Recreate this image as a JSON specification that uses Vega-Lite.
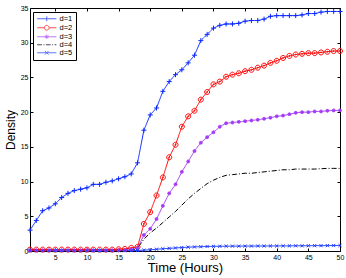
{
"$schema": "https://vega.github.io/schema/vega-lite/v6.json",
"width": 310, "height": 243,
"autosize": {"type": "none"},
"padding": {"left": 30, "top": 8, "right": 6, "bottom": 27},
"config": {"view": {"stroke": "#000", "strokeWidth": 1}, "font": "Liberation Sans",
  "axis": {"grid": false, "domain": false, "tickColor": "#000", "labelColor": "#000", "titleColor": "#000", "titleFontWeight": "normal", "labelFlush": false, "tickSize": -3}},
"data": {"values": [
{"t":1,"d":"d=1","v":3.0},{"t":2,"d":"d=1","v":4.4},{"t":3,"d":"d=1","v":5.8},{"t":4,"d":"d=1","v":6.2},{"t":5,"d":"d=1","v":6.8},{"t":6,"d":"d=1","v":7.7},{"t":7,"d":"d=1","v":8.3},{"t":8,"d":"d=1","v":8.7},{"t":9,"d":"d=1","v":8.9},{"t":10,"d":"d=1","v":9.1},
{"t":11,"d":"d=1","v":9.6},{"t":12,"d":"d=1","v":9.6},{"t":13,"d":"d=1","v":9.9},{"t":14,"d":"d=1","v":10.1},{"t":15,"d":"d=1","v":10.4},{"t":16,"d":"d=1","v":10.7},{"t":17,"d":"d=1","v":11.1},{"t":18,"d":"d=1","v":12.7},{"t":19,"d":"d=1","v":17.4},{"t":20,"d":"d=1","v":19.6},
{"t":21,"d":"d=1","v":20.6},{"t":22,"d":"d=1","v":23.0},{"t":23,"d":"d=1","v":24.4},{"t":24,"d":"d=1","v":25.4},{"t":25,"d":"d=1","v":26.1},{"t":26,"d":"d=1","v":27.1},{"t":27,"d":"d=1","v":28.2},{"t":28,"d":"d=1","v":30.3},{"t":29,"d":"d=1","v":31.2},{"t":30,"d":"d=1","v":32.1},
{"t":31,"d":"d=1","v":32.5},{"t":32,"d":"d=1","v":32.7},{"t":33,"d":"d=1","v":32.7},{"t":34,"d":"d=1","v":32.8},{"t":35,"d":"d=1","v":33.1},{"t":36,"d":"d=1","v":33.2},{"t":37,"d":"d=1","v":33.2},{"t":38,"d":"d=1","v":33.4},{"t":39,"d":"d=1","v":33.8},{"t":40,"d":"d=1","v":33.9},
{"t":41,"d":"d=1","v":33.9},{"t":42,"d":"d=1","v":33.9},{"t":43,"d":"d=1","v":33.9},{"t":44,"d":"d=1","v":34.0},{"t":45,"d":"d=1","v":34.2},{"t":46,"d":"d=1","v":34.2},{"t":47,"d":"d=1","v":34.4},{"t":48,"d":"d=1","v":34.5},{"t":49,"d":"d=1","v":34.5},{"t":50,"d":"d=1","v":34.5},
{"t":1,"d":"d=2","v":0.2},{"t":2,"d":"d=2","v":0.2},{"t":3,"d":"d=2","v":0.2},{"t":4,"d":"d=2","v":0.2},{"t":5,"d":"d=2","v":0.2},{"t":6,"d":"d=2","v":0.2},{"t":7,"d":"d=2","v":0.2},{"t":8,"d":"d=2","v":0.2},{"t":9,"d":"d=2","v":0.2},{"t":10,"d":"d=2","v":0.2},
{"t":11,"d":"d=2","v":0.2},{"t":12,"d":"d=2","v":0.2},{"t":13,"d":"d=2","v":0.2},{"t":14,"d":"d=2","v":0.2},{"t":15,"d":"d=2","v":0.25},{"t":16,"d":"d=2","v":0.3},{"t":17,"d":"d=2","v":0.45},{"t":18,"d":"d=2","v":0.6},{"t":19,"d":"d=2","v":3.9},{"t":20,"d":"d=2","v":5.6},
{"t":21,"d":"d=2","v":8.0},{"t":22,"d":"d=2","v":10.6},{"t":23,"d":"d=2","v":13.5},{"t":24,"d":"d=2","v":15.3},{"t":25,"d":"d=2","v":17.9},{"t":26,"d":"d=2","v":19.4},{"t":27,"d":"d=2","v":20.2},{"t":28,"d":"d=2","v":21.8},{"t":29,"d":"d=2","v":22.9},{"t":30,"d":"d=2","v":24.0},
{"t":31,"d":"d=2","v":24.4},{"t":32,"d":"d=2","v":25.1},{"t":33,"d":"d=2","v":25.4},{"t":34,"d":"d=2","v":25.6},{"t":35,"d":"d=2","v":25.9},{"t":36,"d":"d=2","v":26.1},{"t":37,"d":"d=2","v":26.4},{"t":38,"d":"d=2","v":26.7},{"t":39,"d":"d=2","v":27.1},{"t":40,"d":"d=2","v":27.4},
{"t":41,"d":"d=2","v":27.8},{"t":42,"d":"d=2","v":28.1},{"t":43,"d":"d=2","v":28.3},{"t":44,"d":"d=2","v":28.4},{"t":45,"d":"d=2","v":28.5},{"t":46,"d":"d=2","v":28.5},{"t":47,"d":"d=2","v":28.6},{"t":48,"d":"d=2","v":28.7},{"t":49,"d":"d=2","v":28.8},{"t":50,"d":"d=2","v":28.8},
{"t":1,"d":"d=3","v":0.1},{"t":2,"d":"d=3","v":0.1},{"t":3,"d":"d=3","v":0.1},{"t":4,"d":"d=3","v":0.1},{"t":5,"d":"d=3","v":0.1},{"t":6,"d":"d=3","v":0.1},{"t":7,"d":"d=3","v":0.1},{"t":8,"d":"d=3","v":0.1},{"t":9,"d":"d=3","v":0.1},{"t":10,"d":"d=3","v":0.1},
{"t":11,"d":"d=3","v":0.1},{"t":12,"d":"d=3","v":0.1},{"t":13,"d":"d=3","v":0.1},{"t":14,"d":"d=3","v":0.1},{"t":15,"d":"d=3","v":0.1},{"t":16,"d":"d=3","v":0.1},{"t":17,"d":"d=3","v":0.2},{"t":18,"d":"d=3","v":0.4},{"t":19,"d":"d=3","v":2.3},{"t":20,"d":"d=3","v":3.2},
{"t":21,"d":"d=3","v":4.6},{"t":22,"d":"d=3","v":6.5},{"t":23,"d":"d=3","v":8.3},{"t":24,"d":"d=3","v":9.6},{"t":25,"d":"d=3","v":11.4},{"t":26,"d":"d=3","v":12.9},{"t":27,"d":"d=3","v":14.4},{"t":28,"d":"d=3","v":15.6},{"t":29,"d":"d=3","v":16.4},{"t":30,"d":"d=3","v":17.1},
{"t":31,"d":"d=3","v":17.9},{"t":32,"d":"d=3","v":18.4},{"t":33,"d":"d=3","v":18.5},{"t":34,"d":"d=3","v":18.6},{"t":35,"d":"d=3","v":18.7},{"t":36,"d":"d=3","v":18.8},{"t":37,"d":"d=3","v":18.9},{"t":38,"d":"d=3","v":19.05},{"t":39,"d":"d=3","v":19.2},{"t":40,"d":"d=3","v":19.4},
{"t":41,"d":"d=3","v":19.5},{"t":42,"d":"d=3","v":19.7},{"t":43,"d":"d=3","v":19.9},{"t":44,"d":"d=3","v":20.0},{"t":45,"d":"d=3","v":20.0},{"t":46,"d":"d=3","v":20.1},{"t":47,"d":"d=3","v":20.1},{"t":48,"d":"d=3","v":20.2},{"t":49,"d":"d=3","v":20.25},{"t":50,"d":"d=3","v":20.25},
{"t":1,"d":"d=4","v":0.02},{"t":2,"d":"d=4","v":0.02},{"t":3,"d":"d=4","v":0.02},{"t":4,"d":"d=4","v":0.02},{"t":5,"d":"d=4","v":0.02},{"t":6,"d":"d=4","v":0.02},{"t":7,"d":"d=4","v":0.02},{"t":8,"d":"d=4","v":0.02},{"t":9,"d":"d=4","v":0.02},{"t":10,"d":"d=4","v":0.02},
{"t":11,"d":"d=4","v":0.02},{"t":12,"d":"d=4","v":0.02},{"t":13,"d":"d=4","v":0.02},{"t":14,"d":"d=4","v":0.02},{"t":15,"d":"d=4","v":0.02},{"t":16,"d":"d=4","v":0.02},{"t":17,"d":"d=4","v":0.02},{"t":18,"d":"d=4","v":0.4},{"t":19,"d":"d=4","v":1.7},{"t":20,"d":"d=4","v":2.6},
{"t":21,"d":"d=4","v":3.3},{"t":22,"d":"d=4","v":4.1},{"t":23,"d":"d=4","v":4.9},{"t":24,"d":"d=4","v":5.7},{"t":25,"d":"d=4","v":6.6},{"t":26,"d":"d=4","v":7.5},{"t":27,"d":"d=4","v":8.3},{"t":28,"d":"d=4","v":9.0},{"t":29,"d":"d=4","v":9.7},{"t":30,"d":"d=4","v":10.2},
{"t":31,"d":"d=4","v":10.6},{"t":32,"d":"d=4","v":10.9},{"t":33,"d":"d=4","v":11.0},{"t":34,"d":"d=4","v":11.1},{"t":35,"d":"d=4","v":11.2},{"t":36,"d":"d=4","v":11.2},{"t":37,"d":"d=4","v":11.3},{"t":38,"d":"d=4","v":11.4},{"t":39,"d":"d=4","v":11.5},{"t":40,"d":"d=4","v":11.6},
{"t":41,"d":"d=4","v":11.7},{"t":42,"d":"d=4","v":11.7},{"t":43,"d":"d=4","v":11.8},{"t":44,"d":"d=4","v":11.8},{"t":45,"d":"d=4","v":11.8},{"t":46,"d":"d=4","v":11.8},{"t":47,"d":"d=4","v":11.85},{"t":48,"d":"d=4","v":11.9},{"t":49,"d":"d=4","v":11.9},{"t":50,"d":"d=4","v":11.9},
{"t":1,"d":"d=5","v":0.05},{"t":2,"d":"d=5","v":0.05},{"t":3,"d":"d=5","v":0.05},{"t":4,"d":"d=5","v":0.05},{"t":5,"d":"d=5","v":0.05},{"t":6,"d":"d=5","v":0.05},{"t":7,"d":"d=5","v":0.05},{"t":8,"d":"d=5","v":0.05},{"t":9,"d":"d=5","v":0.05},{"t":10,"d":"d=5","v":0.05},
{"t":11,"d":"d=5","v":0.05},{"t":12,"d":"d=5","v":0.05},{"t":13,"d":"d=5","v":0.05},{"t":14,"d":"d=5","v":0.05},{"t":15,"d":"d=5","v":0.05},{"t":16,"d":"d=5","v":0.05},{"t":17,"d":"d=5","v":0.05},{"t":18,"d":"d=5","v":0.08},{"t":19,"d":"d=5","v":0.12},{"t":20,"d":"d=5","v":0.18},
{"t":21,"d":"d=5","v":0.25},{"t":22,"d":"d=5","v":0.32},{"t":23,"d":"d=5","v":0.38},{"t":24,"d":"d=5","v":0.44},{"t":25,"d":"d=5","v":0.5},{"t":26,"d":"d=5","v":0.55},{"t":27,"d":"d=5","v":0.59},{"t":28,"d":"d=5","v":0.62},{"t":29,"d":"d=5","v":0.65},{"t":30,"d":"d=5","v":0.67},
{"t":31,"d":"d=5","v":0.68},{"t":32,"d":"d=5","v":0.69},{"t":33,"d":"d=5","v":0.7},{"t":34,"d":"d=5","v":0.7},{"t":35,"d":"d=5","v":0.71},{"t":36,"d":"d=5","v":0.71},{"t":37,"d":"d=5","v":0.72},{"t":38,"d":"d=5","v":0.72},{"t":39,"d":"d=5","v":0.73},{"t":40,"d":"d=5","v":0.73},
{"t":41,"d":"d=5","v":0.74},{"t":42,"d":"d=5","v":0.74},{"t":43,"d":"d=5","v":0.75},{"t":44,"d":"d=5","v":0.75},{"t":45,"d":"d=5","v":0.76},{"t":46,"d":"d=5","v":0.77},{"t":47,"d":"d=5","v":0.77},{"t":48,"d":"d=5","v":0.78},{"t":49,"d":"d=5","v":0.79},{"t":50,"d":"d=5","v":0.8}
]},
"layer": [
 {"mark": {"type": "line", "strokeWidth": 1},
  "encoding": {
   "x": {"field": "t", "type": "quantitative", "scale": {"domain": [1, 50], "nice": false, "zero": false},
     "axis": {"orient": "bottom", "values": [5,10,15,20,25,30,35,40,45,50], "labelFontSize": 7, "labelPadding": 5, "title": "Time (Hours)", "titleFontSize": 13, "titlePadding": 1}},
   "y": {"field": "v", "type": "quantitative", "scale": {"domain": [0, 35], "nice": false},
     "axis": {"orient": "left", "values": [0,5,10,15,20,25,30,35], "labelFontSize": 7, "labelPadding": 5, "title": "Density", "titleFontSize": 12, "titlePadding": 3}},
   "stroke": {"field": "d", "type": "nominal", "scale": {"domain": ["d=5","d=4","d=3","d=2","d=1"], "range": ["#1f3cff","#000000","#a43cf5","#ff0000","#0a28ff"]}, "legend": null},
   "strokeDash": {"field": "d", "type": "nominal", "scale": {"domain": ["d=5","d=4","d=3","d=2","d=1"], "range": [[1,0],[5,2,1,2],[1,0],[1,0],[1,0]]}, "legend": null}
  }},
 {"transform": [{"filter": "datum.d == 'd=1'"}],
  "mark": {"type": "point", "strokeWidth": 1, "opacity": 1, "shape": "M-1,0H1M0,-1V1", "size": 25, "stroke": "#0a28ff", "filled": false},
  "encoding": {"x": {"field": "t", "type": "quantitative", "axis": null}, "y": {"field": "v", "type": "quantitative", "axis": null}}},
 {"transform": [{"filter": "datum.d == 'd=2'"}],
  "mark": {"type": "point", "strokeWidth": 1, "opacity": 1, "shape": "M-1,0A1,1 0 1,1 1,0A1,1 0 1,1 -1,0ZM-0.2,0A0.2,0.2 0 1,1 0.2,0A0.2,0.2 0 1,1 -0.2,0Z", "size": 25, "stroke": "#ff0000", "filled": false},
  "encoding": {"x": {"field": "t", "type": "quantitative", "axis": null}, "y": {"field": "v", "type": "quantitative", "axis": null}}},
 {"transform": [{"filter": "datum.d == 'd=3'"}],
  "mark": {"type": "point", "strokeWidth": 0.8, "opacity": 1, "shape": "circle", "size": 9, "stroke": "#a43cf5", "fill": "#a43cf5", "filled": true},
  "encoding": {"x": {"field": "t", "type": "quantitative", "axis": null}, "y": {"field": "v", "type": "quantitative", "axis": null}}},
 {"transform": [{"filter": "datum.d == 'd=5'"}],
  "mark": {"type": "point", "strokeWidth": 1, "opacity": 1, "shape": "M-1,-1L1,1M-1,1L1,-1", "size": 10, "stroke": "#1f3cff", "filled": false},
  "encoding": {"x": {"field": "t", "type": "quantitative", "axis": null}, "y": {"field": "v", "type": "quantitative", "axis": null}}},
 {"transform": [{"filter": "datum.t < 0"}],
  "mark": {"type": "point", "strokeWidth": 1, "filled": false},
  "encoding": {
   "x": {"field": "t", "type": "quantitative", "axis": {"orient": "top", "values": [5,10,15,20,25,30,35,40,45,50], "labels": false, "title": null}},
   "y": {"field": "v", "type": "quantitative", "axis": {"orient": "right", "values": [0,5,10,15,20,25,30,35], "labels": false, "title": null}},
   "color": {"field": "d", "type": "nominal", "scale": {"domain": ["d=1","d=2","d=3","d=4","d=5"], "range": ["#0a28ff","#ff0000","#a43cf5","#000000","#1f3cff"]},
     "legend": {"orient": "none", "legendX": 3, "legendY": 4, "title": null, "strokeColor": "#000", "fillColor": "#fff", "padding": 3, "symbolSize": 36, "symbolStrokeWidth": 1, "symbolOffset": 7, "labelOffset": 9, "labelFontSize": 7.5, "labelColor": "#000", "rowPadding": -1.3}},
   "shape": {"field": "d", "type": "nominal", "scale": {"domain": ["d=1","d=2","d=3","d=4","d=5"], "range": [
      "M-3.2,0H3.2M0,-0.8V0.8",
      "M-3.2,0H-0.8M0.8,0H3.2M-0.8,0A0.8,0.8 0 1,1 0.8,0A0.8,0.8 0 1,1 -0.8,0Z",
      "M-3.2,0H3.2M0,-0.7V0.7M-0.6,-0.35L0.6,0.35M-0.6,0.35L0.6,-0.35",
      "M-3.2,0H-1.6M-1.1,0H-0.8M-0.3,0H1.3M1.8,0H2.1M2.6,0H3.2",
      "M-3.2,0H3.2M-0.6,-0.6L0.6,0.6M-0.6,0.6L0.6,-0.6"]},
     "legend": {"orient": "none", "legendX": 3, "legendY": 4, "title": null, "strokeColor": "#000", "fillColor": "#fff", "padding": 3, "symbolSize": 36, "symbolStrokeWidth": 1, "symbolOffset": 7, "labelOffset": 9, "labelFontSize": 7.5, "labelColor": "#000", "rowPadding": -1.3}}
  }}
],
"resolve": {"axis": {"x": "independent", "y": "independent"}}
}
